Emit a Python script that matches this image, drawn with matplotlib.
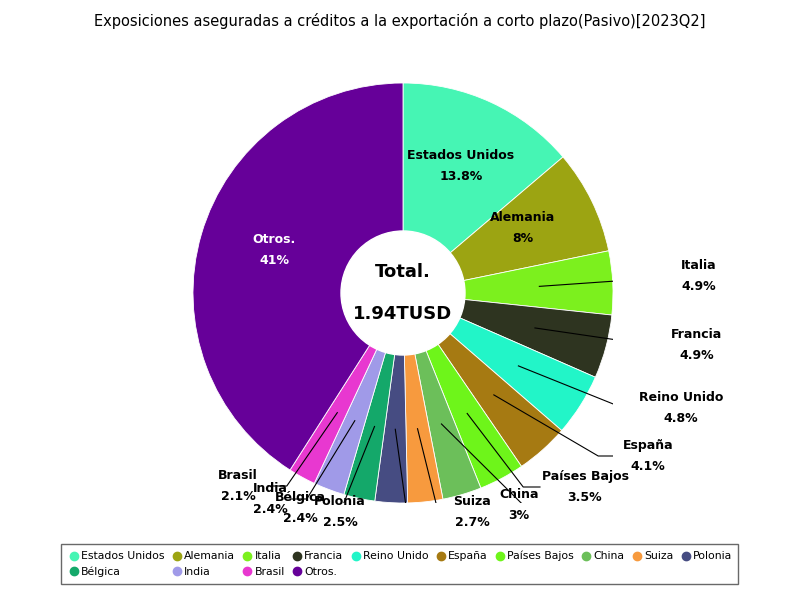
import numpy as np
import matplotlib.pyplot as plt

countries = ['Estados Unidos', 'Alemania', 'Italia', 'Francia', 'Reino Unido', 'España',
             'Países Bajos', 'China', 'Suiza', 'Polonia', 'Bélgica', 'India', 'Brasil', 'Otros.']
shares = [13.8, 8, 4.9, 4.9, 4.8, 4.1, 3.5, 3, 2.7, 2.5, 2.4, 2.4, 2.1, 41]
pct_labels = ['13.8%', '8%', '4.9%', '4.9%', '4.8%', '4.1%', '3.5%', '3%', '2.7%', '2.5%',
              '2.4%', '2.4%', '2.1%', '41%']
colors = ['#46F5B4', '#9CA412', '#7CF01E', '#2E3420', '#22F5C8', '#A67A12', '#6EF51A',
          '#6CBF5A', '#F79A3E', '#464C82', '#14A86A', '#A09AE8', '#E838D0', '#660099']

fig = plt.figure(figsize=(8, 6), dpi=100)
fig.text(0.5, 0.965, 'Exposiciones aseguradas a créditos a la exportación a corto plazo(Pasivo)[2023Q2]',
         ha='center', va='center', fontsize=10.5)

cx, cy, R = 403, 293, 210
ax = fig.add_axes([(cx - R) / 800, (600 - cy - R) / 600, 2 * R / 800, 2 * R / 600])
wedges, _ = ax.pie(shares, colors=colors, startangle=90, counterclock=False, radius=1,
                   wedgeprops=dict(edgecolor='white', linewidth=0.6))
ax.add_patch(plt.Circle((0, 0), 62 / R, color='white', zorder=5))
ax.set_xlim(-1, 1)
ax.set_ylim(-1, 1)
ax.set_aspect('equal')
ax.axis('off')

def to_data(px, py):
    return (px - cx) / R, (cy - py) / R

ax.text(0, 0.1, 'Total.', ha='center', va='center', fontsize=13, fontweight='bold', zorder=6)
ax.text(0, -0.1, '1.94TUSD', ha='center', va='center', fontsize=13, fontweight='bold', zorder=6)

# inside labels
inside = {0: (461, 166, 'black'), 1: (523, 228, 'black'), 13: (274, 250, 'white')}
for i, (px, py, tc) in inside.items():
    x, y = to_data(px, py)
    ax.text(x, y + 0.05, countries[i], ha='center', va='center', fontsize=9, fontweight='bold', color=tc)
    ax.text(x, y - 0.05, pct_labels[i], ha='center', va='center', fontsize=9, fontweight='bold', color=tc)

# outside labels: text centre, line end
outside = {2: ((699, 276), (690, 277)), 3: ((697, 345), (675, 346)),
           4: ((681, 408), (640, 408)), 5: ((648, 456), (615, 456)),
           6: ((585, 487), (540, 487)), 7: ((519, 505), (540, 505)),
           8: ((472, 512), (455, 512)), 9: ((340, 512), (390, 512)),
           10: ((300, 508), (325, 508)), 11: ((270, 499), (290, 499)),
           12: ((238, 486), (270, 486))}
total = sum(shares)
cum = 0
angles = []
for s in shares:
    angles.append(90 - 360 * (cum + s / 2) / total)
    cum += s
for i, ((px, py), (lx, ly)) in outside.items():
    a = np.deg2rad(angles[i])
    x0, y0 = 0.65 * np.cos(a), 0.65 * np.sin(a)
    x1, y1 = to_data(lx, ly)
    xm = x1 - 0.08 if lx > cx else x1 + 0.08
    ax.plot([x0, xm, x1], [y0, y1, y1], color='black', lw=0.8, zorder=4)
    x, y = to_data(px, py)
    ax.text(x, y + 0.05, countries[i], ha='center', va='center', fontsize=9, fontweight='bold', zorder=7)
    ax.text(x, y - 0.05, pct_labels[i], ha='center', va='center', fontsize=9, fontweight='bold', zorder=7)

# legend filled row-wise: 10 on the first row, 4 on the second
order = [0, 10, 1, 11, 2, 12, 3, 13, 4, 5, 6, 7, 8, 9]
handles = [plt.Line2D([], [], marker='o', ls='', color=colors[i], markersize=6) for i in order]
labels = [countries[i] for i in order]
fig.legend(handles, labels, loc='center', bbox_to_anchor=(0.4995, 0.06), ncol=10,
           fontsize=7.8, frameon=True, fancybox=False, edgecolor='#444444',
           handletextpad=0.05, columnspacing=0.55, borderpad=0.6, handlelength=1.2)
fig.savefig('out.png', dpi=100)
